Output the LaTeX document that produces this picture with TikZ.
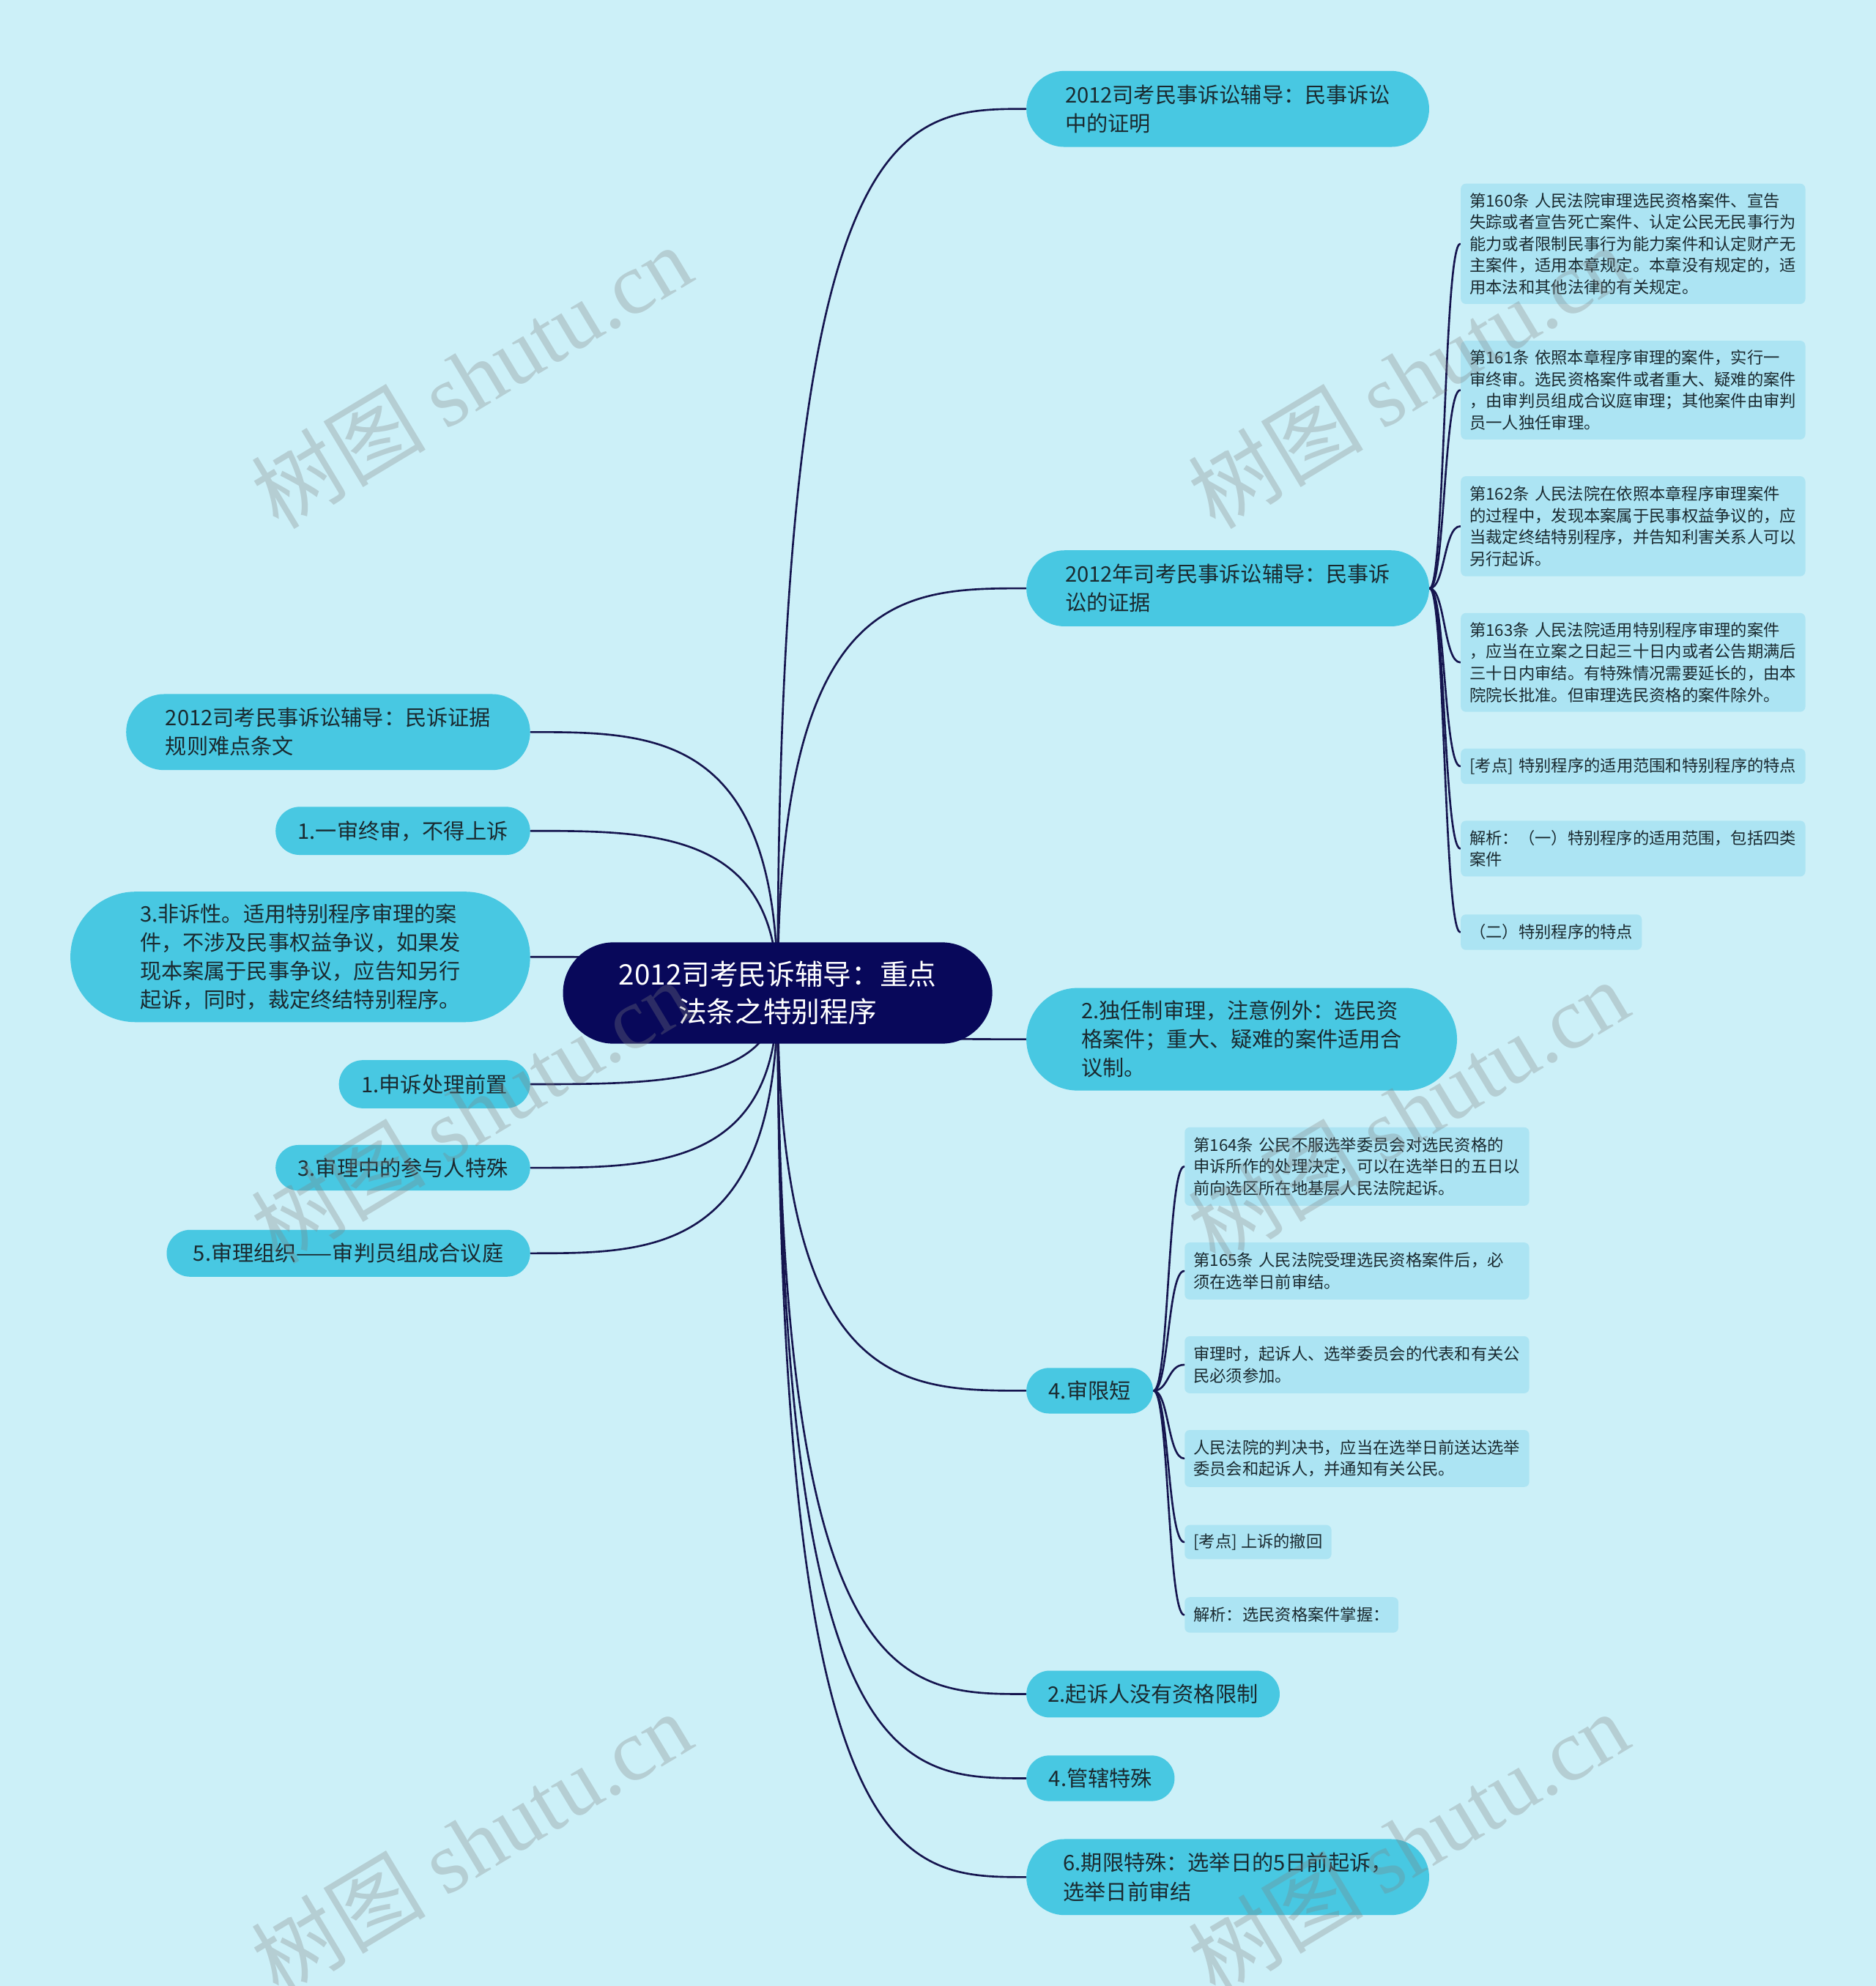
\documentclass[tikz,border=0pt]{standalone}
\usepackage{fontspec}
\setmainfont{Noto Sans CJK SC}
\newfontfamily\wmlatin{Liberation Serif}
\usetikzlibrary{backgrounds,calc}
\definecolor{bgc}{HTML}{CCF0F8}
\definecolor{topicc}{HTML}{48C8E2}
\definecolor{leafc}{HTML}{ACE4F3}
\definecolor{rootc}{HTML}{08085A}
\definecolor{inkc}{HTML}{1A2A30}
\definecolor{linkc}{HTML}{15154F}
\newcommand{\pxu}{0.17286mm}
\newcommand{\rootfont}{\fontsize{11}{14.7}\selectfont}
\newcommand{\topicfont}{\fontsize{8.3}{11.1}\selectfont}
\newcommand{\leaffont}{\fontsize{6.34}{8.4}\selectfont}
\tikzset{
  rootbox/.style={fill=rootc,text=white,font=\rootfont,align=center,inner sep=0pt,
    minimum width=339*\pxu,minimum height=80*\pxu,rounded corners=40*\pxu},
  topic/.style 2 args={fill=topicc,text=inkc,font=\topicfont,align=left,inner sep=0pt,
    minimum width=#1*\pxu,minimum height=#2*\pxu,rounded corners=#2*\pxu/2},
  leaf/.style={fill=leafc,text=inkc,font=\leaffont,align=left,inner xsep=7*\pxu,
    inner ysep=0pt,rounded corners=4*\pxu},
  wideleaf/.style={leaf,text width=258*\pxu,minimum height=#1*\pxu},
  link/.style={draw=linkc,line width=0.75pt,line cap=round},
  wmark/.style={text=gray,opacity=0.3,rotate=31,font=\fontsize{34}{38}\selectfont}
}
\begin{document}
\begin{tikzpicture}[x=0.17286mm,y=-0.17286mm]
  \useasboundingbox (0,0) rectangle (1481,1568);

  % Centre topic.
  \node[rootbox] (root) at (614,784) {2012司考民诉辅导：重点\\法条之特别程序};
  \coordinate (hub) at (root.center);

  % Right branches.
  \node[topic={318}{60},anchor=west] (A1) at (810,86)
    {2012司考民事诉讼辅导：民事诉讼\\中的证明};
  \node[topic={318}{60},anchor=west] (A2) at (810,464.5)
    {2012年司考民事诉讼辅导：民事诉\\讼的证据};
  \node[topic={340}{81},anchor=west] (A3) at (810,820.5)
    {2.独任制审理，注意例外：选民资\\格案件；重大、疑难的案件适用合\\议制。};
  \node[topic={100}{36},anchor=west] (A4) at (810,1098) {4.审限短};
  \node[topic={200}{37},anchor=west] (A5) at (810,1337.5) {2.起诉人没有资格限制};
  \node[topic={117}{36},anchor=west] (A6) at (810,1404) {4.管辖特殊};
  \node[topic={318}{60},anchor=west] (A7) at (810,1482)
    {6.期限特殊：选举日的5日前起诉，\\选举日前审结};

  % Left branches.
  \node[topic={319}{60},anchor=east] (B1) at (419,578)
    {2012司考民事诉讼辅导：民诉证据\\规则难点条文};
  \node[topic={201}{38},anchor=east] (B2) at (419,656) {1.一审终审，不得上诉};
  \node[topic={363}{103},anchor=east] (B3) at (419,755.5)
    {3.非诉性。适用特别程序审理的案\\件，不涉及民事权益争议，如果发\\现本案属于民事争议，应告知另行\\起诉，同时，裁定终结特别程序。};
  \node[topic={151}{38},anchor=east] (B4) at (419,856) {1.申诉处理前置};
  \node[topic={201}{36},anchor=east] (B5) at (419,922) {3.审理中的参与人特殊};
  \node[topic={287}{37},anchor=east] (B6) at (419,989.5) {5.审理组织——审判员组成合议庭};

  % Articles under A2.
  \node[wideleaf=95,anchor=west] (L1) at (1153,192.5)
    {第160条~人民法院审理选民资格案件、宣告\\失踪或者宣告死亡案件、认定公民无民事行为\\能力或者限制民事行为能力案件和认定财产无\\主案件，适用本章规定。本章没有规定的，适\\用本法和其他法律的有关规定。};
  \node[wideleaf=78,anchor=west] (L2) at (1153,308)
    {第161条~依照本章程序审理的案件，实行一\\审终审。选民资格案件或者重大、疑难的案件\\，由审判员组成合议庭审理；其他案件由审判\\员一人独任审理。};
  \node[wideleaf=79,anchor=west] (L3) at (1153,415.5)
    {第162条~人民法院在依照本章程序审理案件\\的过程中，发现本案属于民事权益争议的，应\\当裁定终结特别程序，并告知利害关系人可以\\另行起诉。};
  \node[wideleaf=78,anchor=west] (L4) at (1153,523)
    {第163条~人民法院适用特别程序审理的案件\\，应当在立案之日起三十日内或者公告期满后\\三十日内审结。有特殊情况需要延长的，由本\\院院长批准。但审理选民资格的案件除外。};
  \node[wideleaf=28,anchor=west] (L5) at (1153,605)
    {[考点]~特别程序的适用范围和特别程序的特点};
  \node[wideleaf=44,anchor=west] (L6) at (1153,670)
    {解析：（一）特别程序的适用范围，包括四类\\案件};
  \node[leaf,minimum height=28*\pxu,anchor=west] (L7) at (1153,736) {（二）特别程序的特点};

  % Articles under A4.
  \node[wideleaf=62,anchor=west] (M1) at (935,921)
    {第164条~公民不服选举委员会对选民资格的\\申诉所作的处理决定，可以在选举日的五日以\\前向选区所在地基层人民法院起诉。};
  \node[wideleaf=45,anchor=west] (M2) at (935,1003.5)
    {第165条~人民法院受理选民资格案件后，必\\须在选举日前审结。};
  \node[wideleaf=45,anchor=west] (M3) at (935,1077.5)
    {审理时，起诉人、选举委员会的代表和有关公\\民必须参加。};
  \node[wideleaf=45,anchor=west] (M4) at (935,1151.5)
    {人民法院的判决书，应当在选举日前送达选举\\委员会和起诉人，并通知有关公民。};
  \node[leaf,minimum height=27*\pxu,anchor=west] (M5) at (935,1217.5) {[考点] 上诉的撤回};
  \node[leaf,minimum height=28*\pxu,anchor=west] (M6) at (935,1275) {解析：选民资格案件掌握：};

  % Background and connectors behind the boxes.
  \begin{pgfonlayer}{background}
    \fill[bgc] (0,0) rectangle (1481,1568);
    \foreach \t/\a in {A1/west,A2/west,A3/west,A4/west,A5/west,A6/west,A7/west,
                       B1/east,B2/east,B3/east,B4/east,B5/east,B6/east}
      \draw[link] (hub) .. controls (hub |- \t.\a) and ($(hub |- \t.\a)!0.5!(\t.\a)$) .. (\t.\a);
    \foreach \l in {L1,L2,L3,L4,L5,L6,L7}
      \draw[link] (A2.east) .. controls +(12,0) and +(-13,0) .. (\l.west);
    \foreach \m in {M1,M2,M3,M4,M5,M6}
      \draw[link] (A4.east) .. controls +(12,0) and +(-13,0) .. (\m.west);
  \end{pgfonlayer}

  % Watermarks.
  \foreach \wx/\wy [count=\i] in {372/297,1112/297,372/877,1112/877,372/1455,1112/1455}
    \node[wmark] (wm\i) at (\wx,\wy) {树图 {\wmlatin shutu.cn}};
\end{tikzpicture}
\end{document}
